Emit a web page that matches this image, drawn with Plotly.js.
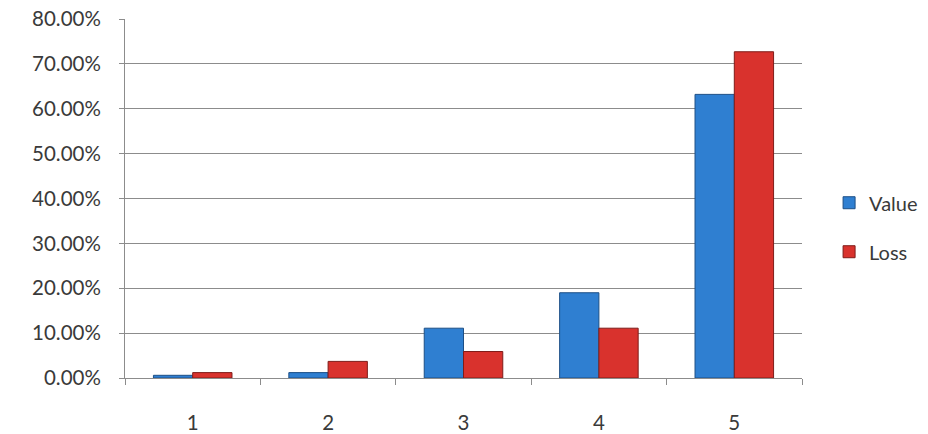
<!DOCTYPE html>
<html>
<head>
<meta charset="utf-8">
<script src="https://cdn.plot.ly/plotly-3.0.1.min.js"></script>
<style>html,body{margin:0;padding:0;background:#fff;}#chart{width:928px;height:434px;}</style>
</head>
<body>
<div id="chart"></div>
<script>
const categories = ["1", "2", "3", "4", "5"];
const valueSeries = [0.006, 0.012, 0.111, 0.190, 0.632];
const lossSeries = [0.012, 0.037, 0.059, 0.111, 0.727];
const yTickVals = [0, 0.1, 0.2, 0.3, 0.4, 0.5, 0.6, 0.7, 0.8];

const traces = [
  {type: "bar", name: "Value", x: categories, y: valueSeries, legendgroup: "a",
   marker: {color: "#2f7fd1", line: {color: "#1d4f86", width: 1}}, hoverinfo: "y"},
  {type: "bar", name: "Loss", x: categories, y: lossSeries, legendgroup: "b",
   marker: {color: "#d9322d", line: {color: "#7f1c19", width: 1}}, hoverinfo: "y"}
];

const layout = {
  width: 928, height: 434,
  margin: {l: 125, r: 126, t: 19, b: 56, autoexpand: false},
  paper_bgcolor: "#fff", plot_bgcolor: "#fff",
  font: {family: "Lato, 'Open Sans', sans-serif", size: 20.5, color: "#3a3a3a"},
  barmode: "group", bargap: 0.42, bargroupgap: 0,
  showlegend: true,
  legend: {x: 1.04, y: 0.42, xanchor: "left", yanchor: "middle", font: {size: 20, color: "#3a3a3a"},
           traceorder: "grouped", tracegroupgap: 20, itemwidth: 30},
  xaxis: {type: "category", showline: true, linecolor: "#8c8c8c", linewidth: 1,
          ticks: "outside", tickson: "boundaries", ticklen: 6, tickcolor: "#8c8c8c",
          ticklabelstandoff: 26, showgrid: false, zeroline: false},
  yaxis: {range: [0, 0.8], tickvals: yTickVals, tickformat: ".2%", showline: true,
          linecolor: "#8c8c8c", ticks: "outside", ticklen: 5, tickcolor: "#8c8c8c",
          ticklabelstandoff: 14, showgrid: true, gridcolor: "#8c8c8c", gridwidth: 1,
          zeroline: false}
};

Plotly.newPlot("chart", traces, layout, {displayModeBar: false, staticPlot: true});
</script>
</body>
</html>
